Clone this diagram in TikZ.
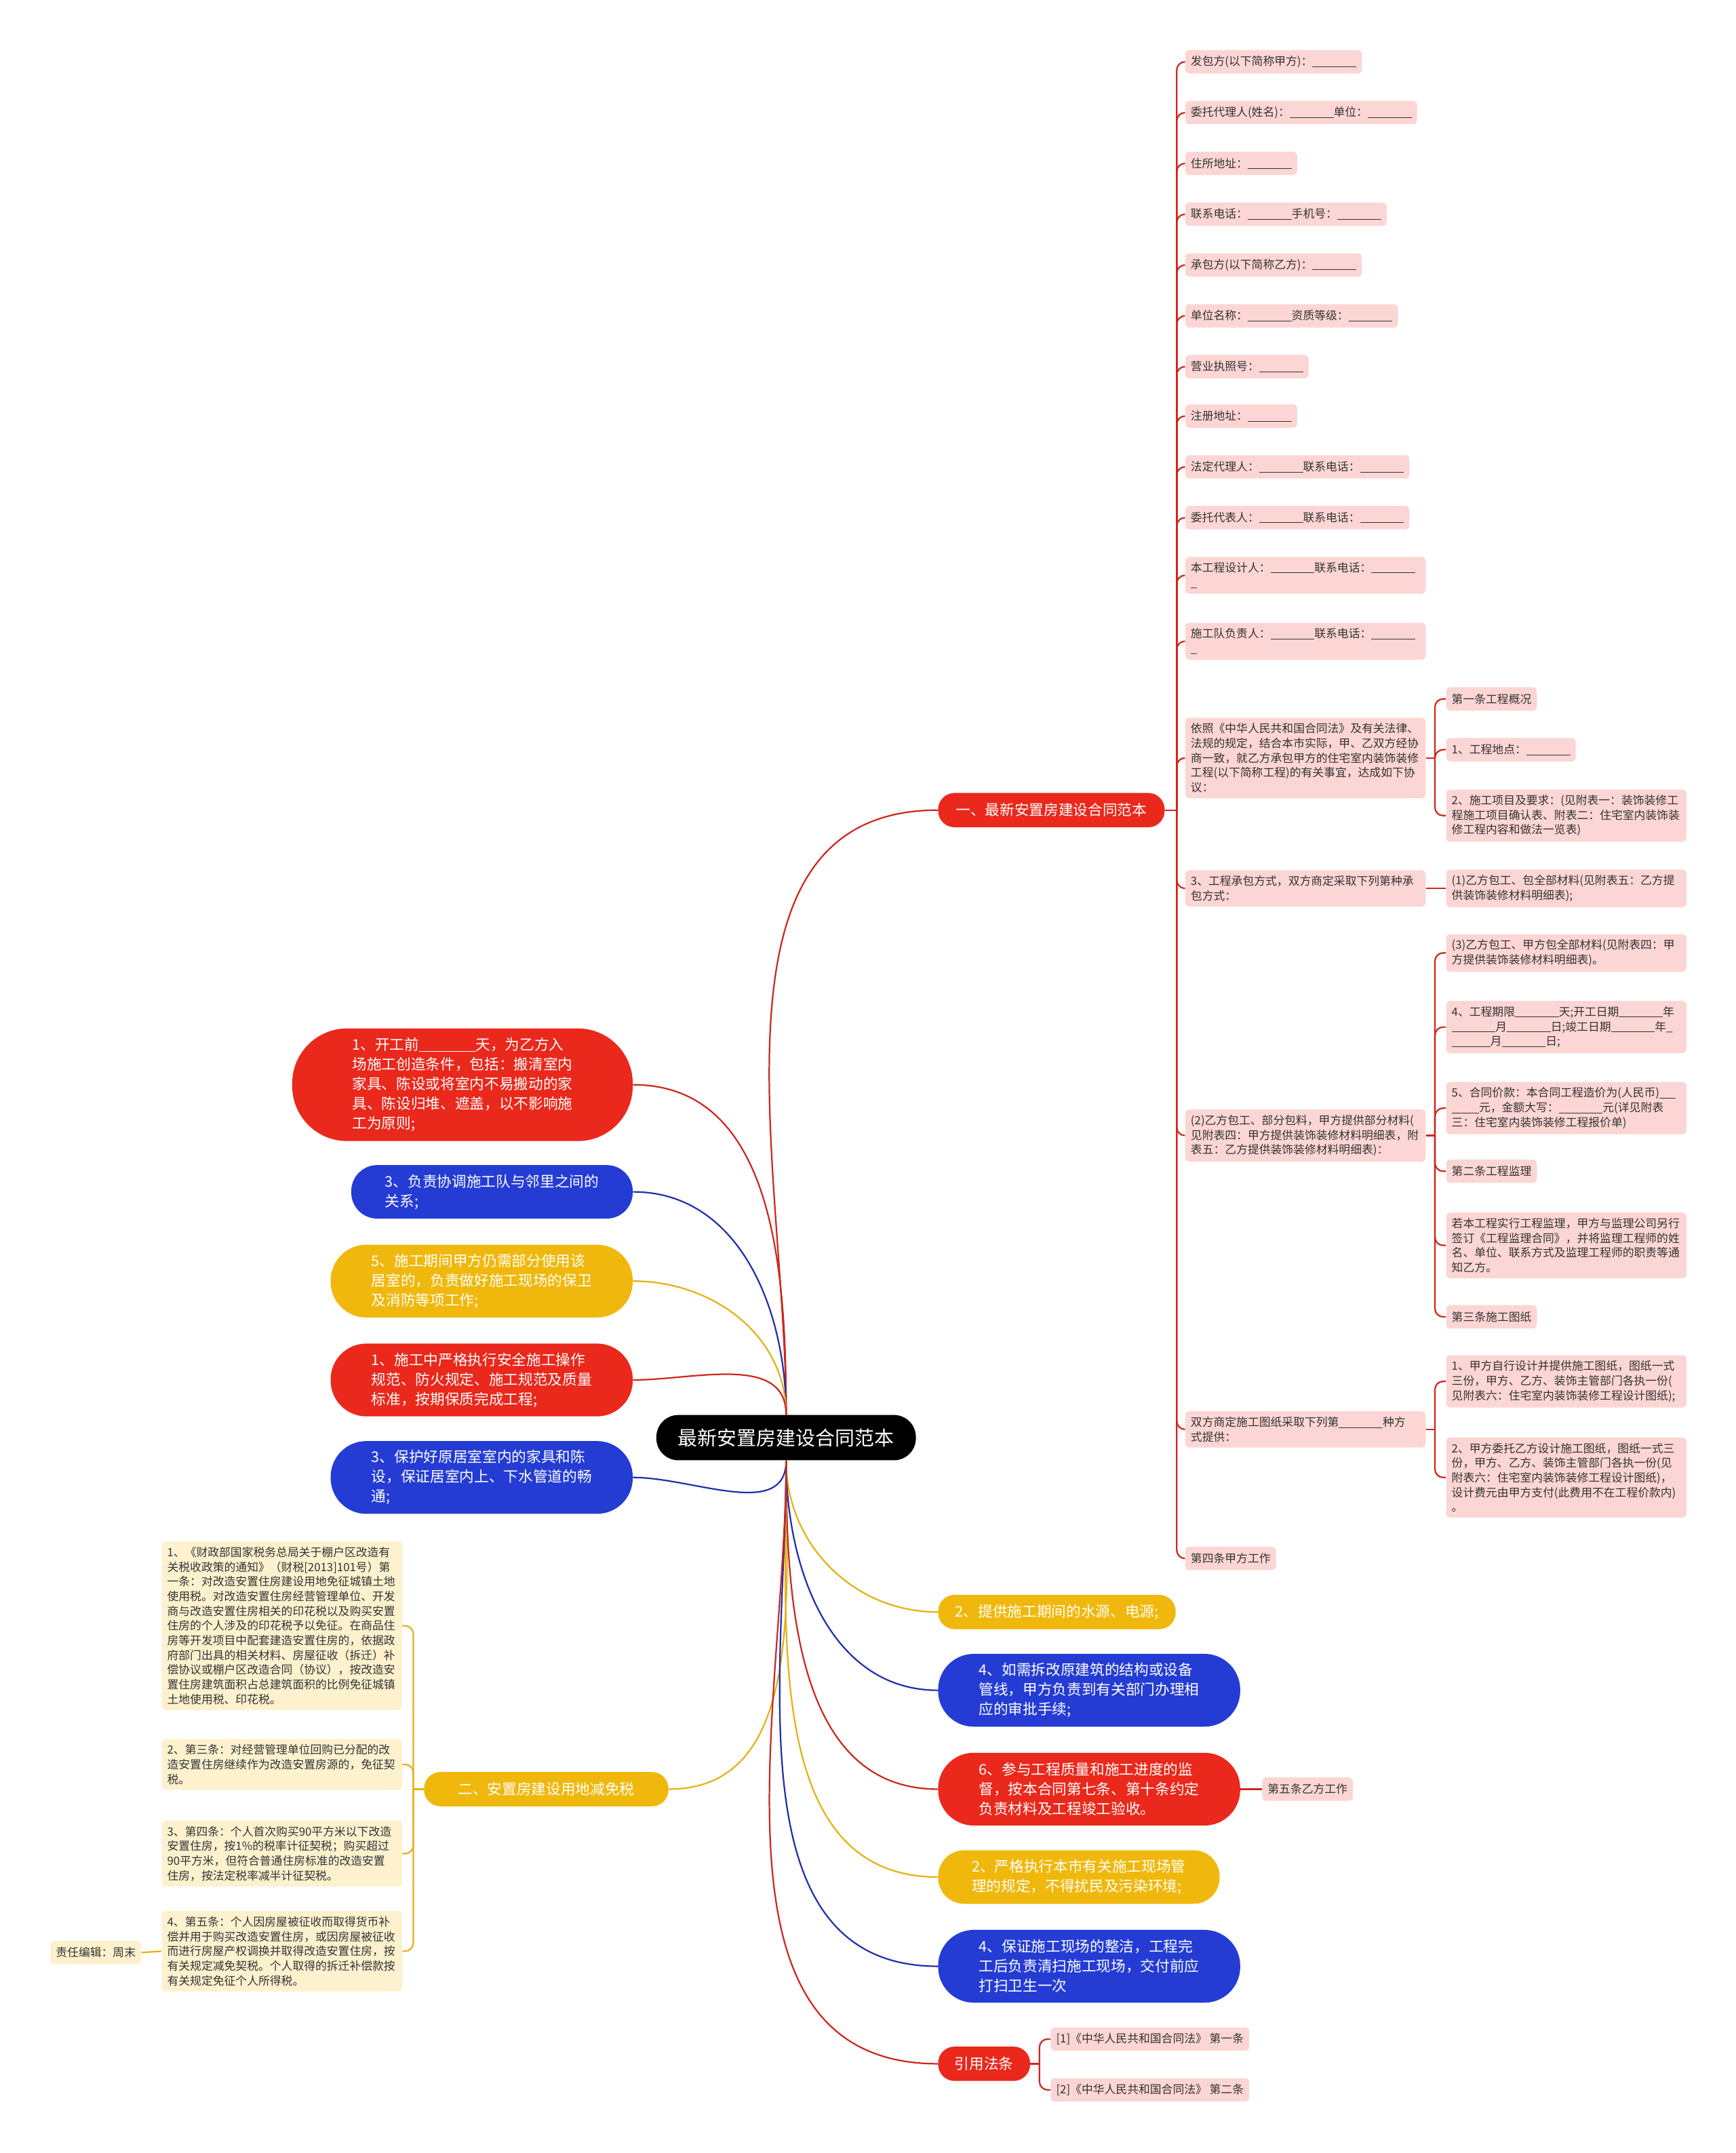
\documentclass[tikz,border=0pt]{standalone}
\usepackage{fontspec}
\newfontfamily\cjk{Noto Sans CJK SC}
\usepackage{tikz}
\usetikzlibrary{backgrounds}
\newcommand{\fillin}{\rule[-0.12em]{3.85em}{0.06em}}

\begin{document}
\begin{tikzpicture}[x=1pt,y=1pt,
  root/.style={fill=black,text=white,font=\cjk\fontsize{14.3}{17}\selectfont,
    rounded corners=16pt,minimum width=189pt,minimum height=33pt,inner sep=0pt},
  pill/.style={text=white,font=\cjk\fontsize{10.7}{14.3}\selectfont,align=left,inner sep=0pt},
  pill1/.style={pill,minimum height=25pt,rounded corners=12pt},
  pill2/.style={pill,minimum height=39pt,rounded corners=19pt},
  pill3/.style={pill,minimum height=53pt,rounded corners=26pt},
  pill5/.style={pill,minimum height=82pt,rounded corners=40pt},
  leaf/.style={fill=cleaf,text=ctext,font=\cjk\fontsize{8.3}{10.7}\selectfont,
    rounded corners=3pt,inner xsep=4pt,inner ysep=4pt,minimum height=17pt,
    align=left,anchor=west},
  leafw/.style={leaf,text width=167pt},
  note/.style={leafw,fill=cnote,anchor=east},
  bred/.style={draw=lred,line width=1.1pt},
  bblue/.style={draw=lblue,line width=1.1pt},
  byel/.style={draw=lyel,line width=1.1pt},
  sub/.style={line width=1.1pt,rounded corners=6pt}]
  \definecolor{cred}{RGB}{234,40,28}
  \definecolor{cblue}{RGB}{36,60,212}
  \definecolor{cyel}{RGB}{240,184,12}
  \definecolor{cleaf}{RGB}{252,214,212}
  \definecolor{cnote}{RGB}{253,241,206}
  \definecolor{ctext}{RGB}{51,51,51}
  \definecolor{lred}{RGB}{204,40,30}
  \definecolor{lblue}{RGB}{32,48,170}
  \definecolor{lyel}{RGB}{228,178,20}
  \useasboundingbox (0,0) rectangle (1264,-1568);

  % centre and first level
  \node[root] (root) at (572.5,-1047) {最新安置房建设合同范本};
  \node[pill1,fill=cred,minimum width=165pt,anchor=west] (a1) at (683,-590) {一、最新安置房建设合同范本};

  \node[pill5,fill=cred,minimum width=248pt,anchor=east] (q1) at (461,-790)
    {1、开工前\fillin 天，为乙方入\\场施工创造条件，包括：搬清室内\\家具、陈设或将室内不易搬动的家\\具、陈设归堆、遮盖，以不影响施\\工为原则;};
  \node[pill2,fill=cblue,minimum width=205pt,anchor=east] (q2) at (461,-868)
    {3、负责协调施工队与邻里之间的\\关系;};
  \node[pill3,fill=cyel,minimum width=220pt,anchor=east] (q3) at (461,-933)
    {5、施工期间甲方仍需部分使用该\\居室的，负责做好施工现场的保卫\\及消防等项工作;};
  \node[pill3,fill=cred,minimum width=220pt,anchor=east] (q4) at (461,-1005)
    {1、施工中严格执行安全施工操作\\规范、防火规定、施工规范及质量\\标准，按期保质完成工程;};
  \node[pill3,fill=cblue,minimum width=220pt,anchor=east] (q5) at (461,-1076)
    {3、保护好原居室室内的家具和陈\\设，保证居室内上、下水管道的畅\\通;};
  \node[pill1,fill=cyel,minimum width=178pt,anchor=east] (q6) at (487,-1303) {二、安置房建设用地减免税};

  \node[pill1,fill=cyel,minimum width=173pt,anchor=west] (p1) at (683,-1174) {2、提供施工期间的水源、电源;};
  \node[pill3,fill=cblue,minimum width=220pt,anchor=west] (p2) at (683,-1231)
    {4、如需拆改原建筑的结构或设备\\管线，甲方负责到有关部门办理相\\应的审批手续;};
  \node[pill3,fill=cred,minimum width=220pt,anchor=west] (p3) at (683,-1303)
    {6、参与工程质量和施工进度的监\\督，按本合同第七条、第十条约定\\负责材料及工程竣工验收。};
  \node[pill2,fill=cyel,minimum width=205pt,anchor=west] (p4) at (683,-1367)
    {2、严格执行本市有关施工现场管\\理的规定，不得扰民及污染环境;};
  \node[pill3,fill=cblue,minimum width=220pt,anchor=west] (p5) at (683,-1432)
    {4、保证施工现场的整洁，工程完\\工后负责清扫施工现场，交付前应\\打扫卫生一次};
  \node[pill1,fill=cred,minimum width=67pt,anchor=west] (p6) at (683,-1503) {引用法条};

  % contract items
  \foreach \nm/\yy/\tx in {c1/45/{发包方(以下简称甲方)：\fillin},
      c2/82/{委托代理人(姓名)：\fillin 单位：\fillin},
      c3/119/{住所地址：\fillin},
      c4/156/{联系电话：\fillin 手机号：\fillin},
      c5/193/{承包方(以下简称乙方)：\fillin},
      c6/230/{单位名称：\fillin 资质等级：\fillin},
      c7/267/{营业执照号：\fillin},
      c8/303/{注册地址：\fillin},
      c9/340/{法定代理人：\fillin 联系电话：\fillin},
      c10/377/{委托代表人：\fillin 联系电话：\fillin},
      c17/1135/{第四条甲方工作}}{%
    \node[leaf] (\nm) at (863,-\yy) {\tx};
  }
  \node[leafw] (c11) at (863,-419) {本工程设计人：\fillin 联系电话：\fillin\\\_};
  \node[leafw] (c12) at (863,-467) {施工队负责人：\fillin 联系电话：\fillin\\\_};
  \node[leafw] (c13) at (863,-552) {依照《中华人民共和国合同法》及有关法律、\\法规的规定，结合本市实际，甲、乙双方经协\\商一致，就乙方承包甲方的住宅室内装饰装修\\工程(以下简称工程)的有关事宜，达成如下协\\议：};
  \node[leafw] (c14) at (863,-647) {3、工程承包方式，双方商定采取下列第种承\\包方式：};
  \node[leafw] (c15) at (863,-827) {(2)乙方包工、部分包料，甲方提供部分材料(\\见附表四：甲方提供装饰装修材料明细表，附\\表五：乙方提供装饰装修材料明细表)：};
  \node[leafw] (c16) at (863,-1041) {双方商定施工图纸采取下列第\fillin 种方\\式提供：};

  \node[leaf] (d1) at (1053,-509) {第一条工程概况};
  \node[leaf] (d2) at (1053,-546) {1、工程地点：\fillin};
  \node[leafw] (d3) at (1053,-594) {2、施工项目及要求：(见附表一：装饰装修工\\程施工项目确认表、附表二：住宅室内装饰装\\修工程内容和做法一览表)};
  \node[leafw] (d4) at (1053,-647) {(1)乙方包工、包全部材料(见附表五：乙方提\\供装饰装修材料明细表);};
  \node[leafw] (d5) at (1053,-694) {(3)乙方包工、甲方包全部材料(见附表四：甲\\方提供装饰装修材料明细表)。};
  \node[leafw] (d6) at (1053,-748) {4、工程期限\fillin 天;开工日期\fillin 年\\\fillin 月\fillin 日;竣工日期\fillin 年\_\\\rule[-0.12em]{3.4em}{0.06em}月\fillin 日;};
  \node[leafw] (d7) at (1053,-807) {5、合同价款：本合同工程造价为(人民币)\rule[-0.12em]{1.4em}{0.06em}\\\rule[-0.12em]{2.4em}{0.06em}元，金额大写：\fillin 元(详见附表\\三：住宅室内装饰装修工程报价单)};
  \node[leaf] (d8) at (1053,-853) {第二条工程监理};
  \node[leafw] (d9) at (1053,-907) {若本工程实行工程监理，甲方与监理公司另行\\签订《工程监理合同》，并将监理工程师的姓\\名、单位、联系方式及监理工程师的职责等通\\知乙方。};
  \node[leaf] (d10) at (1053,-959) {第三条施工图纸};
  \node[leafw] (d11) at (1053,-1006) {1、甲方自行设计并提供施工图纸，图纸一式\\三份，甲方、乙方、装饰主管部门各执一份(\\见附表六：住宅室内装饰装修工程设计图纸);};
  \node[leafw] (d12) at (1053,-1076) {2、甲方委托乙方设计施工图纸，图纸一式三\\份，甲方、乙方、装饰主管部门各执一份(见\\附表六：住宅室内装饰装修工程设计图纸)，\\设计费元由甲方支付(此费用不在工程价款内)\\。};

  \node[leaf] (wt) at (919,-1303) {第五条乙方工作};
  \node[leaf] (r1) at (765,-1485) {[1]《中华人民共和国合同法》 第一条};
  \node[leaf] (r2) at (765,-1522) {[2]《中华人民共和国合同法》 第二条};

  % tax notes
  \node[note] (n1) at (293,-1184) {1、《财政部国家税务总局关于棚户区改造有\\关税收政策的通知》（财税[2013]101号）第\\一条：对改造安置住房建设用地免征城镇土地\\使用税。对改造安置住房经营管理单位、开发\\商与改造安置住房相关的印花税以及购买安置\\住房的个人涉及的印花税予以免征。在商品住\\房等开发项目中配套建造安置住房的，依据政\\府部门出具的相关材料、房屋征收（拆迁）补\\偿协议或棚户区改造合同（协议），按改造安\\置住房建筑面积占总建筑面积的比例免征城镇\\土地使用税、印花税。};
  \node[note] (n2) at (293,-1285) {2、第三条：对经营管理单位回购已分配的改\\造安置住房继续作为改造安置房源的，免征契\\税。};
  \node[note] (n3) at (293,-1350) {3、第四条：个人首次购买90平方米以下改造\\安置住房，按1\%的税率计征契税；购买超过\\90平方米，但符合普通住房标准的改造安置\\住房，按法定税率减半计征契税。};
  \node[note] (n4) at (293,-1421) {4、第五条：个人因房屋被征收而取得货币补\\偿并用于购买改造安置住房，或因房屋被征收\\而进行房屋产权调换并取得改造安置住房，按\\有关规定减免契税。个人取得的拆迁补偿款按\\有关规定免征个人所得税。};
  \node[leaf,fill=cnote,anchor=east] (ed) at (103,-1422) {责任编辑：周末};

  \coordinate (t1) at (857,-590);
  \coordinate (t2) at (1045,-552);
  \coordinate (t3) at (1045,-827);
  \coordinate (t4) at (1045,-1041);
  \coordinate (t5) at (757,-1503);
  \coordinate (t6) at (301,-1303);

  \begin{scope}[on background layer]
    \fill[white] (0,0) rectangle (1264,-1568);
    % branches from the centre
    \draw[bred] (root) to[out=90,in=180] (a1.west);
    \draw[bred] (root) to[out=90,in=0] (q1.east);
    \draw[bblue] (root) to[out=90,in=0] (q2.east);
    \draw[byel] (root) to[out=90,in=0] (q3.east);
    \draw[bred] (root) to[out=90,in=0] (q4.east);
    \draw[bblue] (root) to[out=-90,in=0] (q5.east);
    \draw[byel] (root) to[out=-90,in=0] (q6.east);
    \draw[byel] (root) to[out=-90,in=180] (p1.west);
    \draw[bblue] (root) to[out=-90,in=180] (p2.west);
    \draw[bred] (root) to[out=-90,in=180] (p3.west);
    \draw[byel] (root) to[out=-90,in=180] (p4.west);
    \draw[bblue] (root) to[out=-90,in=180] (p5.west);
    \draw[bred] (root) to[out=-90,in=180] (p6.west);
    % sub branches
    \draw[sub,lred] (a1.east) -- (t1);
    \foreach \nm in {c1,c2,c3,c4,c5,c6,c7,c8,c9,c10,c11,c12,c13,c14,c15,c16,c17}{%
      \draw[sub,lred] (t1) |- (\nm.west);
    }
    \draw[sub,lred] (c13.east) -- (t2);
    \foreach \nm in {d1,d2,d3}{%
      \draw[sub,lred] (t2) |- (\nm.west);
    }
    \draw[sub,lred] (c14.east) -- (d4.west);
    \draw[sub,lred] (c15.east) -- (t3);
    \foreach \nm in {d5,d6,d7,d8,d9,d10}{%
      \draw[sub,lred] (t3) |- (\nm.west);
    }
    \draw[sub,lred] (c16.east) -- (t4);
    \foreach \nm in {d11,d12}{%
      \draw[sub,lred] (t4) |- (\nm.west);
    }
    \draw[sub,lred] (p3.east) -- (wt.west);
    \draw[sub,lred] (p6.east) -- (t5);
    \foreach \nm in {r1,r2}{%
      \draw[sub,lred] (t5) |- (\nm.west);
    }
    \draw[sub,lyel] (q6.west) -- (t6);
    \foreach \nm in {n1,n2,n3,n4}{%
      \draw[sub,lyel] (t6) |- (\nm.east);
    }
    \draw[sub,lyel] (n4.west) -- (ed.east);
  \end{scope}
\end{tikzpicture}
\end{document}
